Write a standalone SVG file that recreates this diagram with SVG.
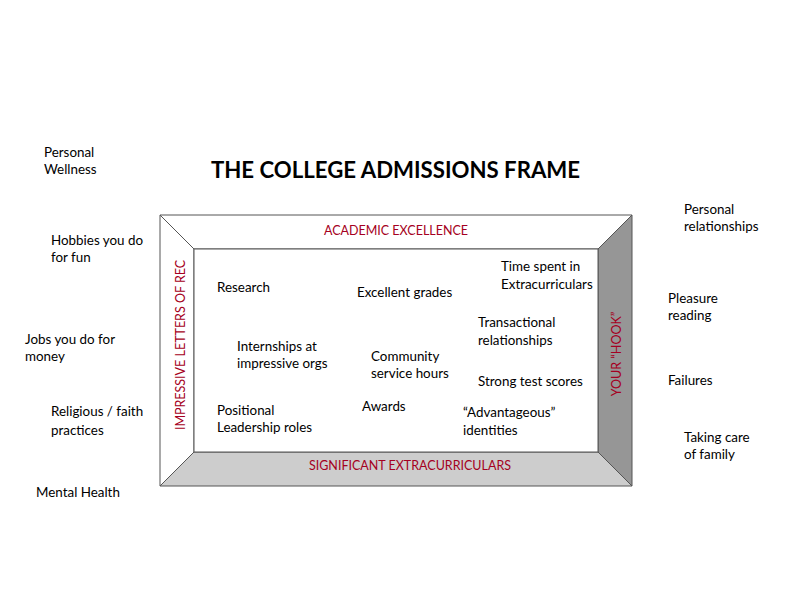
<svg xmlns="http://www.w3.org/2000/svg" width="792" height="612" viewBox="0 0 792 612">
<style>
text{font-family:Lato,"Open Sans","Liberation Sans",sans-serif;fill:#000;font-size:13.4px}
.r{fill:#a50021;font-size:12.5px}
.t{font-weight:bold;font-size:22.2px}
.b{stroke:#555;stroke-width:1}
</style>
<rect width="792" height="612" fill="#fff"/>
<text class="t" x="395.5" y="178" text-anchor="middle">THE COLLEGE ADMISSIONS FRAME</text>
<g id="frame">
<polygon class="b" points="160,215 632,215 598,249 194,249" fill="#fff"/>
<polygon class="b" points="160,215 194,249 194,452 160,486" fill="#fff"/>
<polygon class="b" points="632,215 632,486 598,452 598,249" fill="#969696"/>
<polygon class="b" points="160,486 194,452 598,452 632,486" fill="#cdcdcd"/>
<rect class="b" x="194" y="249" width="404" height="203" fill="#fff"/>
</g>
<g id="labels">
<text class="r" x="396" y="235" text-anchor="middle">ACADEMIC EXCELLENCE</text>
<text class="r" x="410" y="470" text-anchor="middle">SIGNIFICANT EXTRACURRICULARS</text>
<text class="r" transform="translate(185,345) rotate(-90)" text-anchor="middle">IMPRESSIVE LETTERS OF REC</text>
<text class="r" transform="translate(621,354) rotate(-90)" text-anchor="middle">YOUR “HOOK”</text>
</g>
<g id="inside">
<text x="217" y="292">Research</text>
<text x="357" y="297">Excellent grades</text>
<text x="501" y="271">Time spent in</text>
<text x="501" y="289">Extracurriculars</text>
<text x="478" y="327">Transactional</text>
<text x="478" y="345">relationships</text>
<text x="237" y="351">Internships at</text>
<text x="237" y="368">impressive orgs</text>
<text x="371" y="361">Community</text>
<text x="371" y="378">service hours</text>
<text x="478" y="386">Strong test scores</text>
<text x="362" y="411">Awards</text>
<text x="217" y="415">Positional</text>
<text x="217" y="432">Leadership roles</text>
<text x="463" y="417">“Advantageous”</text>
<text x="463" y="435">identities</text>
</g>
<g id="outside">
<text x="44" y="157">Personal</text>
<text x="44" y="174">Wellness</text>
<text x="51" y="245">Hobbies you do</text>
<text x="51" y="262">for fun</text>
<text x="25" y="344">Jobs you do for</text>
<text x="25" y="361">money</text>
<text x="51" y="416">Religious / faith</text>
<text x="51" y="435">practices</text>
<text x="36" y="497">Mental Health</text>
<text x="684" y="214">Personal</text>
<text x="684" y="231">relationships</text>
<text x="668" y="303">Pleasure</text>
<text x="668" y="320">reading</text>
<text x="668" y="385">Failures</text>
<text x="684" y="442">Taking care</text>
<text x="684" y="459">of family</text>
</g>
</svg>
